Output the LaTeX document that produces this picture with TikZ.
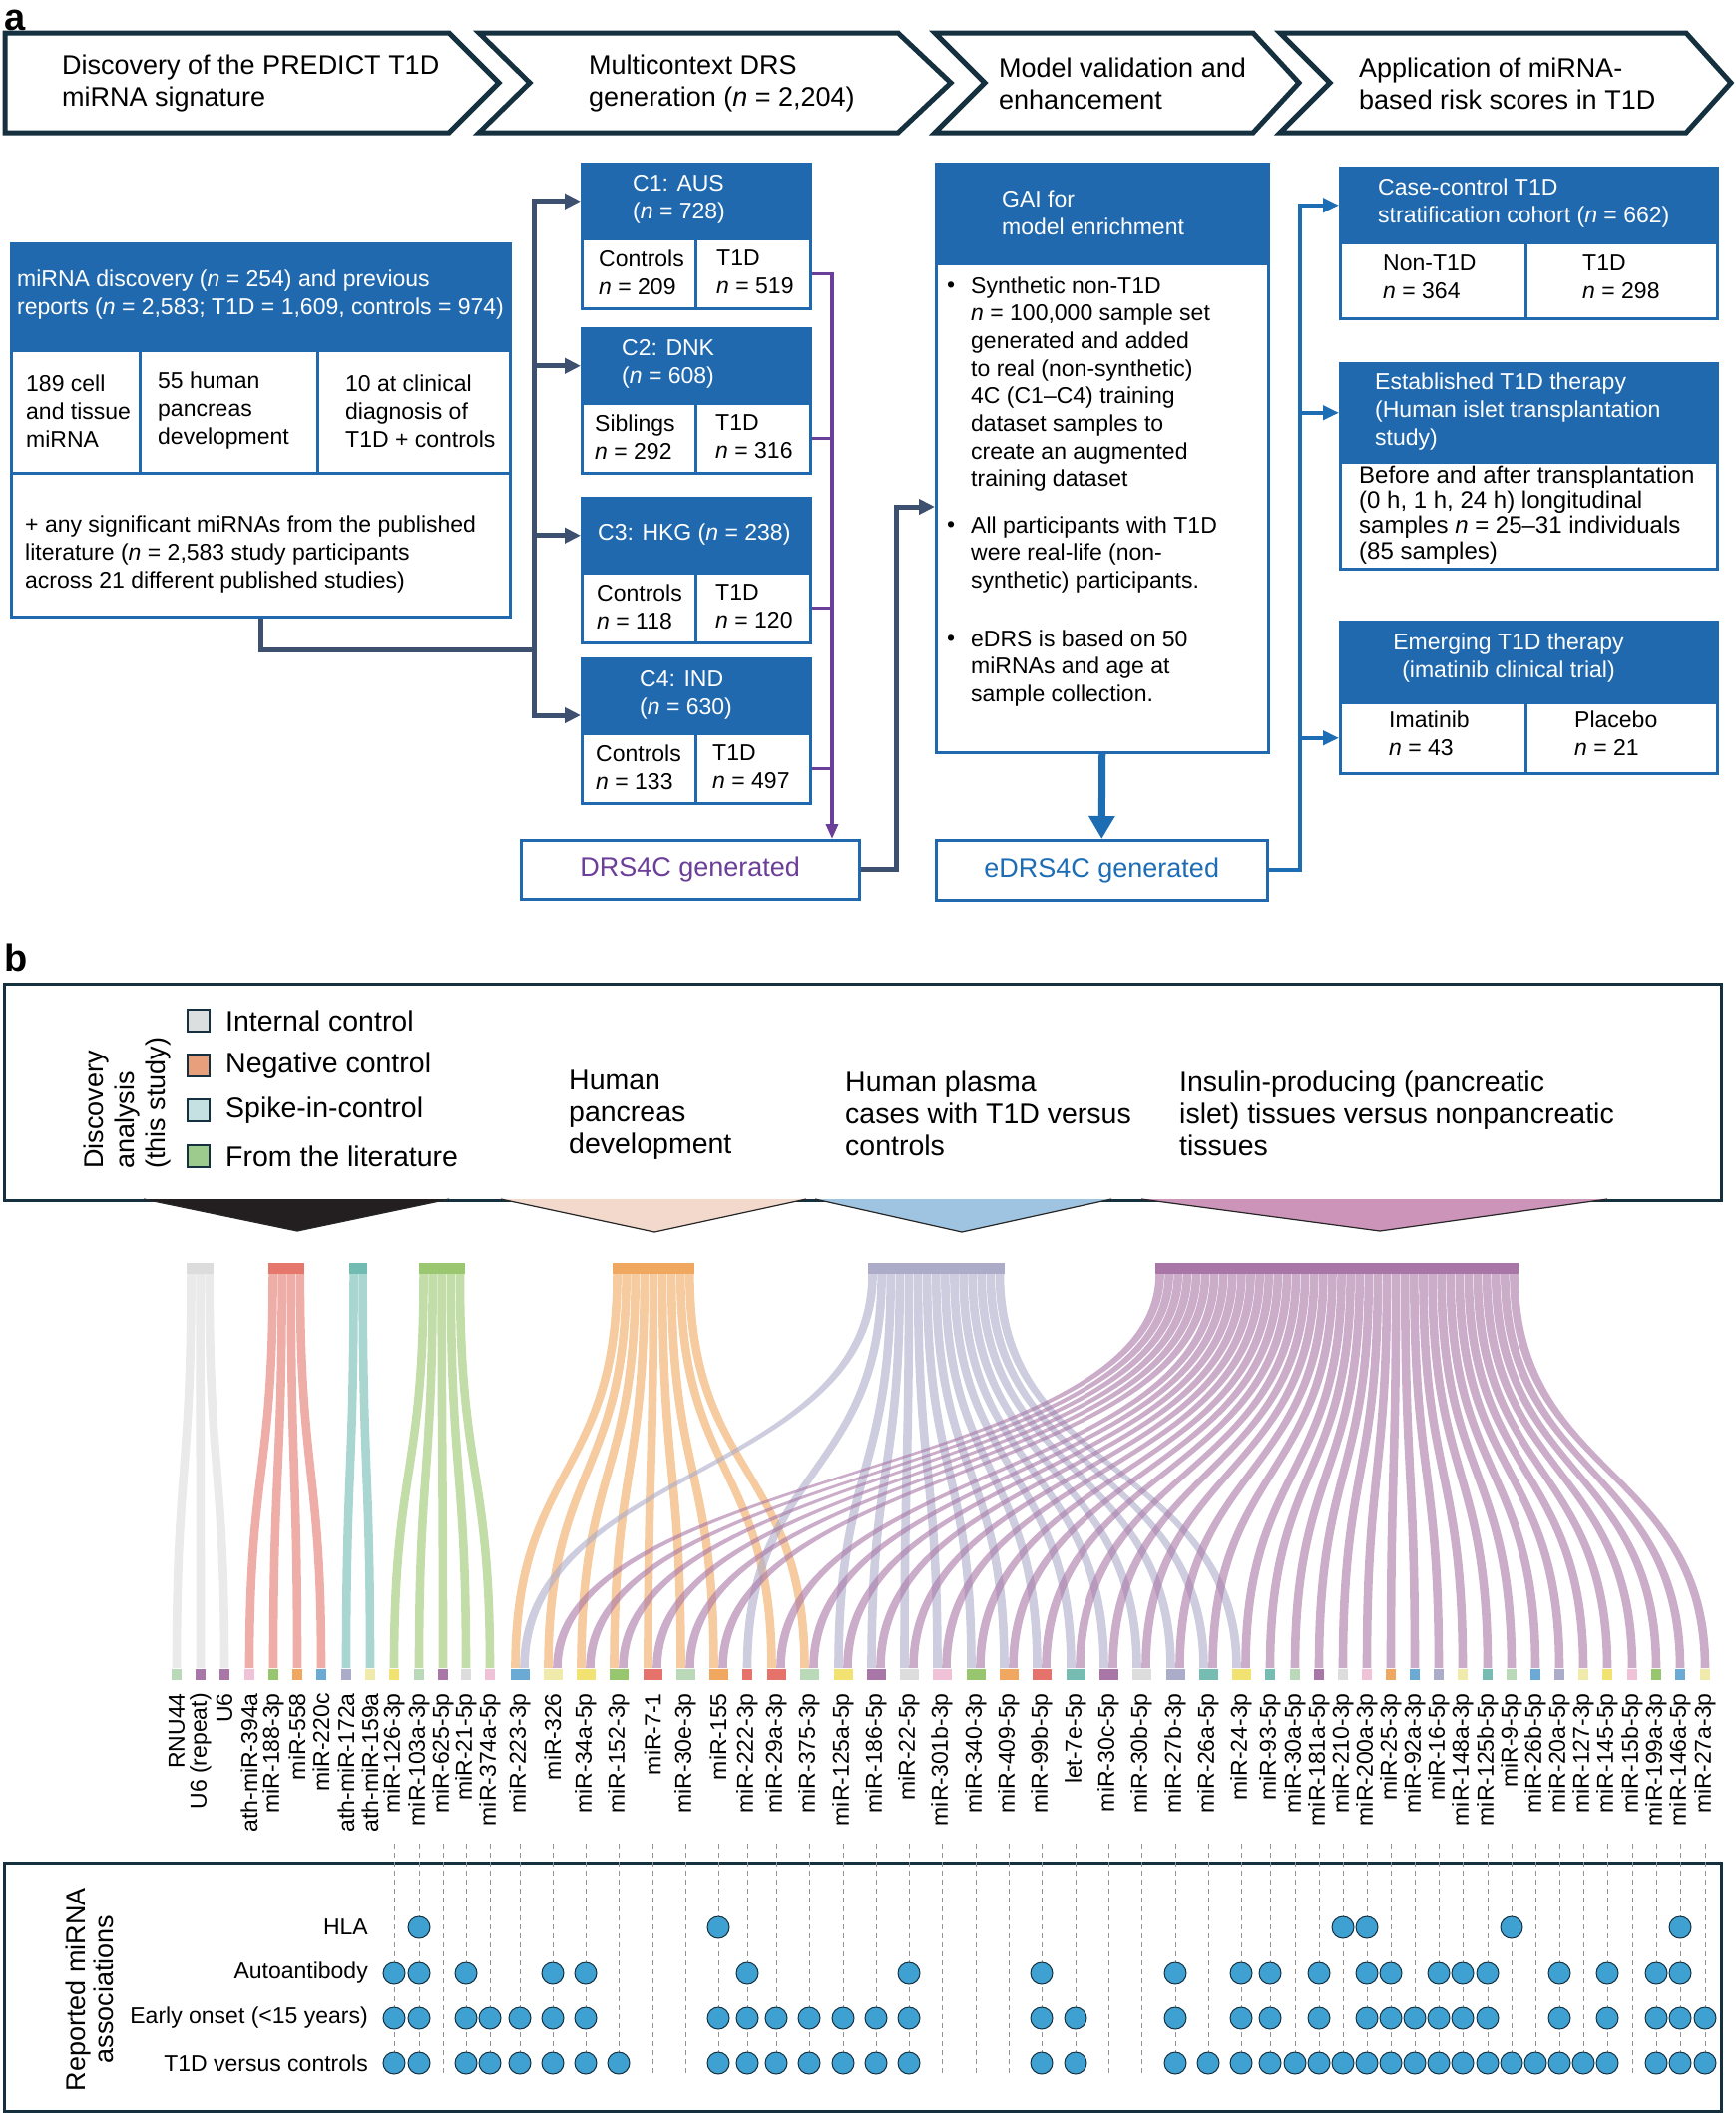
\documentclass[tikz,border=0pt]{standalone}
\usepackage{fontspec}
\setmainfont{Liberation Sans}
\usetikzlibrary{arrows.meta,calc}
\definecolor{navy}{HTML}{15303F}
\definecolor{cblue}{HTML}{2169AE}
\definecolor{slate}{HTML}{3D5070}
\definecolor{purp}{HTML}{6B3F99}
\definecolor{eblue}{HTML}{1D6DB5}
\definecolor{dotc}{HTML}{3FA0D2}
\definecolor{cgrey}{HTML}{DCDCDC}
\definecolor{cred}{HTML}{E5776D}
\definecolor{cteal}{HTML}{72BBB2}
\definecolor{cgreen}{HTML}{9BC770}
\definecolor{corange}{HTML}{F0A860}
\definecolor{clav}{HTML}{ACACC9}
\definecolor{cpurple}{HTML}{A877A7}
\definecolor{sqLG}{HTML}{B9D9B9}
\definecolor{sqP}{HTML}{A877A7}
\definecolor{sqPk}{HTML}{F0C2D8}
\definecolor{sqG}{HTML}{98C66E}
\definecolor{sqO}{HTML}{F0A860}
\definecolor{sqB}{HTML}{6AAAD4}
\definecolor{sqL}{HTML}{ABABCA}
\definecolor{sqPY}{HTML}{F1EBAB}
\definecolor{sqY}{HTML}{F2E271}
\definecolor{sqGr}{HTML}{DDDDDD}
\definecolor{sqR}{HTML}{E5736B}
\definecolor{sqT}{HTML}{77BCB2}
\definecolor{lgInt}{HTML}{DCDFE0}
\definecolor{lgNeg}{HTML}{E8A07C}
\definecolor{lgSpk}{HTML}{C6E1E1}
\definecolor{lgLit}{HTML}{9DCB8E}
\definecolor{trBlack}{HTML}{231F20}
\definecolor{trPeach}{HTML}{F2D9CC}
\definecolor{trBlue}{HTML}{9FC4E1}
\definecolor{trPink}{HTML}{CD94B9}
\newcommand\fsz[2]{\fontsize{#1}{#2}\selectfont}
\newcommand\nit{\textit{n}}
\newcommand\rib[3]{\fill[#1,opacity=0.6] ({#2-4.3},1277) .. controls ({#2-4.3},1480) and ({#3-4.3},1470) .. ({#3-4.3},1672) -- ({#3+4.3},1672) .. controls ({#3+4.3},1470) and ({#2+4.3},1480) .. ({#2+4.3},1277) -- cycle;}
\begin{document}
\begin{tikzpicture}[x=1pt,y=-1pt,
  chev/.style={draw=navy,line width=5pt,line join=miter,fill=white},
  hdr/.style={fill=cblue,draw=cblue,line width=2.5pt,inner sep=0pt,anchor=north west},
  cell/.style={fill=white,draw=cblue,line width=2.5pt,inner sep=0pt,anchor=north west},
  txt/.style={inner sep=0pt,align=left,anchor=west,font=\fsz{23}{28}},
  wtxt/.style={txt,text=white},
  htxt/.style={inner sep=0pt,align=left,anchor=west,font=\fsz{27}{32}},
  sl/.style={draw=slate,line width=5pt},
  sla/.style={sl,-{Triangle[length=16pt,width=15pt]}},
  pu/.style={draw=purp,line width=3.5pt},
  pua/.style={pu,-{Triangle[length=15pt,width=12pt]}},
  bu/.style={draw=eblue,line width=4pt},
  bua/.style={bu,-{Triangle[length=16pt,width=14pt]}},
  bla/.style={draw=eblue,line width=7pt,-{Triangle[length=23pt,width=25pt]}},
  lgsq/.style={draw=navy,line width=1.8pt,minimum size=22pt,inner sep=0pt},
  ltxt/.style={inner sep=0pt,align=left,anchor=west,font=\fsz{28.5}{32}},
  lab/.style={rotate=90,anchor=east,inner sep=0pt,font=\fsz{23}{23}},
  dot/.style={circle,fill=dotc,draw=navy,line width=1pt,minimum size=22pt,inner sep=0pt},
  dsh/.style={draw=gray!85,line width=1pt,dash pattern=on 5pt off 4pt},
  tri/.style={draw=black!85,line width=1.2pt,line join=miter}
]
\useasboundingbox (0,0) rectangle (1740,2118);

% ---------- panel a ----------
\node[anchor=base west,inner sep=0pt,font=\bfseries\fsz{38}{38}] (pa) at (4,30) {a};

\draw[chev] (5,33) -- (450,33) -- (500,83) -- (450,133) -- (5,133) -- cycle;
\draw[chev] (480,33) -- (900,33) -- (953,83) -- (900,133) -- (480,133) -- (531,83) -- cycle;
\draw[chev] (937,33) -- (1256,33) -- (1302,83) -- (1256,133) -- (937,133) -- (987,83) -- cycle;
\draw[chev] (1283,33) -- (1690,33) -- (1735,83) -- (1690,133) -- (1283,133) -- (1333,83) -- cycle;
\node[htxt] (h1) at (62,84) {Discovery of the PREDICT T1D\\miRNA signature};
\node[htxt] (h2) at (590,84) {Multicontext DRS\\generation (\nit{} = 2,204)};
\node[htxt] (h3) at (1001,84) {Model validation and\\enhancement};
\node[htxt] (h4) at (1362,84) {Application of miRNA-\\based risk scores in T1D};

% discovery box
\node[hdr,minimum width=500pt,minimum height=107pt] (dh) at (10,243) {};
\node[cell,minimum width=129pt,minimum height=123pt] (dc1) at (10,350) {};
\node[cell,minimum width=178pt,minimum height=123pt] (dc2) at (139,350) {};
\node[cell,minimum width=193pt,minimum height=123pt] (dc3) at (317,350) {};
\node[cell,minimum width=500pt,minimum height=144pt] (db) at (10,473) {};
\node[wtxt] (tdh) at (17,296) {miRNA discovery (\nit{} = 254) and previous\\reports (\nit{} = 2,583; T1D = 1,609, controls = 974)};
\node[txt] (tdc1) at (26,412) {189 cell\\and tissue\\miRNA};
\node[txt] (tdc2) at (158,412) {55 human\\pancreas\\development};
\node[txt] (tdc3) at (346,412) {10 at clinical\\diagnosis of\\T1D + controls};
\node[txt] (tdb) at (25,556) {+ any significant miRNAs from the published\\literature (\nit{} = 2,583 study participants\\across 21 different published studies)};

% cohort boxes
\node[hdr,minimum width=229pt,minimum height=75pt] (c1h) at (582,163) {};
\node[cell,minimum width=114pt,minimum height=70pt] (c1a) at (582,238) {};
\node[cell,minimum width=115pt,minimum height=70pt] (c1b) at (696,238) {};
\node[hdr,minimum width=229pt,minimum height=75pt] (c2h) at (582,328) {};
\node[cell,minimum width=114pt,minimum height=70pt] (c2a) at (582,403) {};
\node[cell,minimum width=115pt,minimum height=70pt] (c2b) at (696,403) {};
\node[hdr,minimum width=229pt,minimum height=75pt] (c3h) at (582,498) {};
\node[cell,minimum width=114pt,minimum height=70pt] (c3a) at (582,573) {};
\node[cell,minimum width=115pt,minimum height=70pt] (c3b) at (696,573) {};
\node[hdr,minimum width=229pt,minimum height=75pt] (c4h) at (582,659) {};
\node[cell,minimum width=114pt,minimum height=70pt] (c4a) at (582,734) {};
\node[cell,minimum width=115pt,minimum height=70pt] (c4b) at (696,734) {};
\node[wtxt] (tc1h) at (634,200) {C1: AUS\\(\nit{} = 728)};
\node[txt] (tc1a) at (600,273) {Controls\\\nit{} = 209};
\node[txt] (tc1b) at (718,273) {T1D\\\nit{} = 519};
\node[wtxt] (tc2h) at (623,365) {C2: DNK\\(\nit{} = 608)};
\node[txt] (tc2a) at (596,438) {Siblings\\\nit{} = 292};
\node[txt] (tc2b) at (717,438) {T1D\\\nit{} = 316};
\node[wtxt] (tc3h) at (599,536) {C3: HKG (\nit{} = 238)};
\node[txt] (tc3a) at (598,608) {Controls\\\nit{} = 118};
\node[txt] (tc3b) at (717,608) {T1D\\\nit{} = 120};
\node[wtxt] (tc4h) at (641,697) {C4: IND\\(\nit{} = 630)};
\node[txt] (tc4a) at (597,769) {Controls\\\nit{} = 133};
\node[txt] (tc4b) at (714,769) {T1D\\\nit{} = 497};

% DRS4C
\node[cell,minimum width=339pt,minimum height=59pt,font=\fsz{27}{27},text=purp] (drs) at (521,841) {DRS4C generated};

% GAI
\node[cell,minimum width=333pt,minimum height=590pt] (gai) at (937,163) {};
\node[hdr,minimum width=333pt,minimum height=100pt] (gaih) at (937,163) {};
\node[wtxt] (tgai) at (1004,213) {GAI for\\model enrichment};
\node[txt] (bul1) at (949,288) {\textbullet};
\node[txt,font=\fsz{23}{27.7}] (tb1) at (973,385) {Synthetic non-T1D\\\nit{} = 100,000 sample set\\generated and added\\to real (non-synthetic)\\4C (C1--C4) training\\dataset samples to\\create an augmented\\training dataset};
\node[txt] (bul2) at (949,528) {\textbullet};
\node[txt,font=\fsz{23}{27.7}] (tb2) at (973,556) {All participants with T1D\\were real-life (non-\\synthetic) participants.};
\node[txt] (bul3) at (949,642) {\textbullet};
\node[txt,font=\fsz{23}{27.7}] (tb3) at (973,670) {eDRS is based on 50\\miRNAs and age at\\sample collection.};

% eDRS4C
\node[cell,minimum width=332pt,minimum height=60pt,font=\fsz{27}{27},text=eblue] (edrs) at (937,841) {eDRS4C generated};

% right boxes
\node[hdr,minimum width=378pt,minimum height=75pt] (caseh) at (1342,167) {};
\node[cell,minimum width=186pt,minimum height=76pt] (casea) at (1342,242) {};
\node[cell,minimum width=192pt,minimum height=76pt] (caseb) at (1528,242) {};
\node[wtxt] (tcaseh) at (1381,204) {Case-control T1D\\stratification cohort (\nit{} = 662)};
\node[txt] (tcasea) at (1386,278) {Non-T1D\\\nit{} = 364};
\node[txt] (tcaseb) at (1586,278) {T1D\\\nit{} = 298};

\node[hdr,minimum width=378pt,minimum height=99pt] (esth) at (1342,363) {};
\node[cell,minimum width=378pt,minimum height=107pt] (estb) at (1342,462) {};
\node[wtxt] (testh) at (1378,413) {Established T1D therapy\\(Human islet transplantation\\study)};
\node[txt,font=\fsz{24}{25.2}] (testb) at (1362,516) {Before and after transplantation\\(0 h, 1 h, 24 h) longitudinal\\samples \nit{} = 25--31 individuals\\(85 samples)};

\node[hdr,minimum width=378pt,minimum height=81pt] (emgh) at (1342,622) {};
\node[cell,minimum width=186pt,minimum height=71pt] (emga) at (1342,703) {};
\node[cell,minimum width=192pt,minimum height=71pt] (emgb) at (1528,703) {};
\node[wtxt,align=center,anchor=center] (temgh) at (1512,660) {Emerging T1D therapy\\(imatinib clinical trial)};
\node[txt] (temga) at (1392,735) {Imatinib\\\nit{} = 43};
\node[txt] (temgb) at (1578,735) {Placebo\\\nit{} = 21};

% connectors panel a
\coordinate (busM) at (535,651);
\draw[sl] (db.south) |- (busM);
\draw[sla] (busM) |- (c1h.west);
\draw[sla] (c2h.west -| busM) -- (c2h.west);
\draw[sla] (c3h.west -| busM) -- (c3h.west);
\draw[sla] (busM) |- (582,717);

\coordinate (pX) at (834,0);
\draw[pua] (c1b.east) -| (pX |- drs.north);
\draw[pu] (c2b.east) -- (c2b.east -| pX);
\draw[pu] (c3b.east) -- (c3b.east -| pX);
\draw[pu] (c4b.east) -- (c4b.east -| pX);

\coordinate (gIn) at (gai.west |- 0,508);
\draw[sla] (drs.east) -| ($(gIn)+(-39,0)$) -- (gIn);

\draw[bla] (gai.south) -- (edrs.north);

\coordinate (eX) at (1303,0);
\draw[bua] (edrs.east) -| (eX |- caseh.west) -- (caseh.west);
\draw[bua] (esth.west -| eX) -- (esth.west);
\draw[bua] (emga.west -| eX) -- (emga.west);

% ---------- panel b ----------
\node[anchor=base west,inner sep=0pt,font=\bfseries\fsz{38}{38}] (pb) at (4,973) {b};
\node[draw=navy,line width=3pt,minimum width=1721pt,minimum height=217pt,anchor=north west,inner sep=0pt] (bbox) at (3,985) {};

\node[rotate=90,anchor=west,align=left,inner sep=0pt,font=\fsz{27}{31}] (dtitle) at (128,1172) {Discovery\\analysis\\(this study)};
\node[lgsq,fill=lgInt] (lg1) at (199,1023) {};
\node[lgsq,fill=lgNeg] (lg2) at (199,1068) {};
\node[lgsq,fill=lgSpk] (lg3) at (199,1113) {};
\node[lgsq,fill=lgLit] (lg4) at (199,1159) {};
\node[ltxt] (tlg1) at (226,1023) {Internal control};
\node[ltxt] (tlg2) at (226,1068) {Negative control};
\node[ltxt] (tlg3) at (226,1113) {Spike-in-control};
\node[ltxt] (tlg4) at (226,1159) {From the literature};
\node[ltxt] (grp1) at (570,1118) {Human\\pancreas\\development};
\node[ltxt] (grp2) at (847,1116) {Human plasma\\cases with T1D versus\\controls};
\node[ltxt] (grp3) at (1182,1116) {Insulin-producing (pancreatic\\islet) tissues versus nonpancreatic\\tissues};

\filldraw[tri,fill=trBlack] (144,1202) -- (298,1234) -- (450,1202);
\filldraw[tri,fill=trPeach] (502,1202) -- (656,1235) -- (808,1202);
\filldraw[tri,fill=trBlue] (817,1202) -- (964,1235) -- (1114,1202);
\filldraw[tri,fill=trPink] (1144,1202) -- (1383,1234) -- (1611,1202);

% ribbons
\foreach \tg [count=\kk from 0] in {177,201,225} {\rib{cgrey}{191.55+9.1*\kk}{\tg}}
\foreach \tg [count=\kk from 0] in {250,274,298,322} {\rib{cred}{273.55+9.1*\kk}{\tg}}
\foreach \tg [count=\kk from 0] in {347,371} {\rib{cteal}{354.55+9.1*\kk}{\tg}}
\foreach \tg [count=\kk from 0] in {395,420,444,467,491} {\rib{cgreen}{424.55+9.1*\kk}{\tg}}
\foreach \tg [count=\kk from 0] in {516.5,549.5,582.5,615.5,649.5,682.5,715.5,773.5,806.5} {\rib{corange}{618.55+9.1*\kk}{\tg}}
\foreach \tg [count=\kk from 0] in {525.5,749,840.5,873.5,906.5,939.5,973.5,1006.5,1039.5,1073.5,1106.5,1139.5,1173.5,1206.5,1239.5} {\rib{clav}{874.55+9.1*\kk}{\tg}}
\foreach \tg [count=\kk from 0] in {558.5,591.5,624.5,658.5,691.5,724.5,782.5,815.5,849.5,882.5,915.5,948.5,982.5,1015.5,1048.5,1082.5,1115.5,1148.5,1182.5,1215.5,1248.5,1273,1298,1322,1346,1370,1394,1418,1442,1466,1491,1515,1539,1563,1587,1611,1636,1660,1684,1709} {\rib{cpurple}{1162.55+9.1*\kk}{\tg}}

% group bars
\fill[cgrey] (187,1266) rectangle (214.3,1277);
\fill[cred] (269,1266) rectangle (305.4,1277);
\fill[cteal] (350,1266) rectangle (368.2,1277);
\fill[cgreen] (420,1266) rectangle (465.5,1277);
\fill[corange] (614,1266) rectangle (695.9,1277);
\fill[clav] (870,1266) rectangle (1006.5,1277);
\fill[cpurple] (1158,1266) rectangle (1522,1277);

% target squares
\foreach \x/\w/\cc in {177/9.5/sqLG,201/9.5/sqP,225/9.5/sqP,250/9.5/sqPk,274/9.5/sqG,298/9.5/sqO,322/9.5/sqB,347/9.5/sqL,371/9.5/sqPY,395/9.5/sqY,420/9.5/sqLG,444/9.5/sqP,467/9.5/sqGr,491/9.5/sqPk,521/19/sqB,554/19/sqPY,587/19/sqY,620/19/sqG,654/19/sqR,687/19/sqLG,720/19/sqO,749/9.5/sqR,778/19/sqR,811/19/sqLG,845/19/sqY,878/19/sqP,911/19/sqGr,944/19/sqPk,978/19/sqG,1011/19/sqO,1044/19/sqR,1078/19/sqT,1111/19/sqP,1144/19/sqGr,1178/19/sqL,1211/19/sqT,1244/19/sqY,1273/9.5/sqT,1298/9.5/sqLG,1322/9.5/sqP,1346/9.5/sqGr,1370/9.5/sqPk,1394/9.5/sqO,1418/9.5/sqB,1442/9.5/sqL,1466/9.5/sqPY,1491/9.5/sqT,1515/9.5/sqLG,1539/9.5/sqB,1563/9.5/sqL,1587/9.5/sqPY,1611/9.5/sqY,1636/9.5/sqPk,1660/9.5/sqG,1684/9.5/sqB,1709/9.5/sqPY}
  {\fill[\cc] ({\x-\w/2},1673) rectangle ({\x+\w/2},1684);}

% miRNA labels
\foreach \x/\tx [count=\ii] in {177/RNU44,201/U6 (repeat),225/U6,250/ath-miR-394a,274/miR-188-3p,298/miR-558,322/miR-220c,347/ath-miR-172a,371/ath-miR-159a,395/miR-126-3p,420/miR-103a-3p,444/miR-625-5p,467/miR-21-5p,491/miR-374a-5p,521/miR-223-3p,554/miR-326,587/miR-34a-5p,620/miR-152-3p,654/miR-7-1,687/miR-30e-3p,720/miR-155,749/miR-222-3p,778/miR-29a-3p,811/miR-375-3p,845/miR-125a-5p,878/miR-186-5p,911/miR-22-5p,944/miR-301b-3p,978/miR-340-3p,1011/miR-409-5p,1044/miR-99b-5p,1078/let-7e-5p,1111/miR-30c-5p,1144/miR-30b-5p,1178/miR-27b-3p,1211/miR-26a-5p,1244/miR-24-3p,1273/miR-93-5p,1298/miR-30a-5p,1322/miR-181a-5p,1346/miR-210-3p,1370/miR-200a-3p,1394/miR-25-3p,1418/miR-92a-3p,1442/miR-16-5p,1466/miR-148a-3p,1491/miR-125b-5p,1515/miR-9-5p,1539/miR-26b-5p,1563/miR-20a-5p,1587/miR-127-3p,1611/miR-145-5p,1636/miR-15b-5p,1660/miR-199a-3p,1684/miR-146a-5p,1709/miR-27a-3p}
  {\node[lab] (m\ii) at (\x,1697) {\tx};}

% associations box
\node[draw=navy,line width=3pt,minimum width=1721pt,minimum height=249pt,anchor=north west,inner sep=0pt] (abox) at (3,1866) {};
\foreach \x in {395,420,444,467,491,521,554,587,620,654,687,720,749,778,811,845,878,911,944,978,1011,1044,1078,1111,1144,1178,1211,1244,1273,1298,1322,1346,1370,1394,1418,1442,1466,1491,1515,1539,1563,1587,1611,1636,1660,1684,1709}
  {\draw[dsh] (\x,1848) -- (\x,2078);}
\node[rotate=90,align=center,inner sep=0pt,font=\fsz{27}{28}] (rep) at (90,1994) {Reported miRNA\\associations};
\node[inner sep=0pt,anchor=east,font=\fsz{23}{23}] (rH) at (369,1932) {HLA};
\node[inner sep=0pt,anchor=east,font=\fsz{23}{23}] (rA) at (369,1978) {Autoantibody};
\node[inner sep=0pt,anchor=east,font=\fsz{23}{23}] (rE) at (369,2023) {Early onset (<15 years)};
\node[inner sep=0pt,anchor=east,font=\fsz{23}{23}] (rT) at (369,2068) {T1D versus controls};
\foreach \x in {420,720,1346,1370,1515,1684} {\node[dot] (dH\x) at (\x,1932) {};}
\foreach \x in {395,420,467,554,587,749,911,1044,1178,1244,1273,1322,1370,1394,1442,1466,1491,1563,1611,1660,1684} {\node[dot] (dA\x) at (\x,1978) {};}
\foreach \x in {395,420,467,491,521,554,587,720,749,778,811,845,878,911,1044,1078,1178,1244,1273,1322,1370,1394,1418,1442,1466,1491,1563,1611,1660,1684,1709} {\node[dot] (dE\x) at (\x,2023) {};}
\foreach \x in {395,420,467,491,521,554,587,620,720,749,778,811,845,878,911,1044,1078,1178,1211,1244,1273,1298,1322,1346,1370,1394,1418,1442,1466,1491,1515,1539,1563,1587,1611,1660,1684,1709} {\node[dot] (dT\x) at (\x,2068) {};}
\end{tikzpicture}
\end{document}
